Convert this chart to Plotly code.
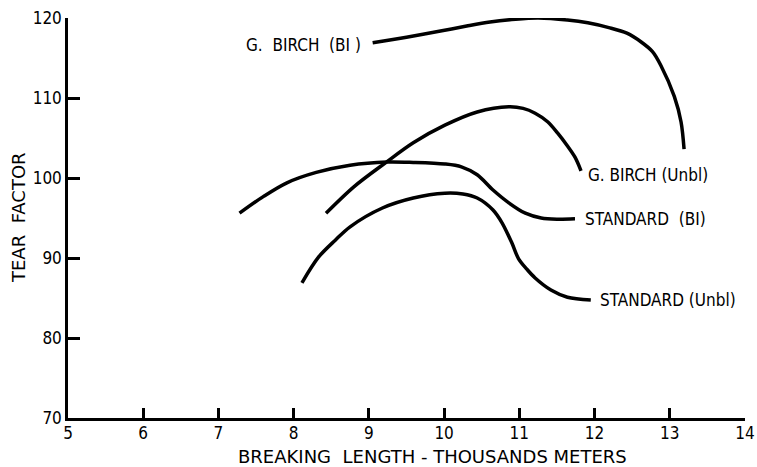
import plotly.graph_objects as go

# Breaking length (thousands of meters) vs. tear factor for four pulps
birch_bl_x = [9.05, 9.5, 9.97, 10.3, 10.61, 10.95, 11.25, 11.64, 11.91, 12.19, 12.43,
              12.62, 12.77, 12.88, 13.06, 13.15, 13.19]
birch_bl_y = [116.9, 117.6, 118.4, 119.0, 119.5, 119.85, 120.0, 119.75, 119.4, 118.8, 118.1,
              117.0, 115.8, 114.1, 110.2, 107.0, 103.6]

birch_unbl_x = [8.43, 8.8, 9.22, 9.59, 10.01, 10.44, 10.86, 11.05, 11.21, 11.38, 11.51, 11.64,
                11.74, 11.82]
birch_unbl_y = [95.6, 98.9, 101.9, 104.4, 106.6, 108.25, 108.9, 108.7, 108.1, 107.0, 105.6,
                104.0, 102.6, 100.9]

std_bl_x = [7.28, 7.6, 7.91, 8.3, 8.75, 9.24, 9.59, 10.01, 10.23, 10.44, 10.65, 10.86,
            11.08, 11.29, 11.5, 11.74]
std_bl_y = [95.6, 97.7, 99.4, 100.7, 101.6, 102.0, 101.95, 101.75, 101.4, 100.4, 98.5, 96.9,
            95.6, 95.0, 94.85, 94.9]

std_unbl_x = [8.11, 8.33, 8.55, 8.75, 9.18, 9.59, 10.01, 10.25, 10.44, 10.65, 10.77, 10.90,
              10.99, 11.1, 11.21, 11.42, 11.64, 11.95]
std_unbl_y = [86.9, 90.1, 92.2, 93.9, 96.25, 97.5, 98.1, 98.0, 97.5, 96.0, 94.4, 91.9,
              89.9, 88.6, 87.5, 86.0, 85.1, 84.75]

x_ticks = [5, 6, 7, 8, 9, 10, 11, 12, 13, 14]
y_ticks = [70, 80, 90, 100, 110, 120]

curve_names = ["G.  BIRCH  (BI )", "G. BIRCH (Unbl)", "STANDARD  (BI)", "STANDARD (Unbl)"]

LABEL_FONT = "DejaVu Sans Condensed"
TITLE_FONT = "DejaVu Sans"
W, H = 757, 467
ML, MR, MT, MB = 68, 12, 18, 49

fig = go.Figure()
series = [(birch_bl_x, birch_bl_y), (birch_unbl_x, birch_unbl_y),
          (std_bl_x, std_bl_y), (std_unbl_x, std_unbl_y)]
for name, (xs, ys) in zip(curve_names, series):
    fig.add_trace(go.Scatter(
        x=xs, y=ys, mode="lines", name=name,
        line=dict(color="black", width=3.5, shape="spline", smoothing=0.9),
        showlegend=False, cliponaxis=False,
    ))

# Curve labels next to the curve ends (pixel nudges via xshift / yshift)
label_specs = [
    (curve_names[0], birch_bl_x[0], birch_bl_y[0], "right", -10, -2),
    (curve_names[1], birch_unbl_x[-1], birch_unbl_y[-1], "left", 5, -4),
    (curve_names[2], std_bl_x[-1], std_bl_y[-1], "left", 8, 0),
    (curve_names[3], std_unbl_x[-1], std_unbl_y[-1], "left", 7, 0),
]
for text, x, y, anchor, dx, dy in label_specs:
    fig.add_annotation(x=x, y=y, xref="x", yref="y", text=text, showarrow=False,
                       xanchor=anchor, yanchor="middle", xshift=dx, yshift=dy,
                       font=dict(family=LABEL_FONT, size=17, color="black"))

pw, ph = W - ML - MR, H - MT - MB
# Axis titles
fig.add_annotation(x=(432 - ML) / pw, y=-(457 - (H - MB)) / ph, xref="paper", yref="paper",
                   text="BREAKING  LENGTH - THOUSANDS METERS", showarrow=False,
                   xanchor="center", yanchor="middle", borderpad=0,
                   font=dict(family=TITLE_FONT, size=18, color="black"))
fig.add_annotation(x=(18 - ML) / pw, y=0.5, xref="paper", yref="paper",
                   text="TEAR  FACTOR", showarrow=False, textangle=-90,
                   xanchor="center", yanchor="middle",
                   font=dict(family=TITLE_FONT, size=18, color="black"))

fig.update_layout(
    width=W, height=H,
    margin=dict(l=ML, r=MR, t=MT, b=MB, autoexpand=False),
    paper_bgcolor="white", plot_bgcolor="white",
)

fig.update_xaxes(range=[5, 14], tickvals=x_ticks, ticks="inside", ticklen=10, tickwidth=2.5,
                 tickcolor="black", showline=True, linecolor="black", linewidth=2.5,
                 showgrid=False, zeroline=False, ticklabelstandoff=-2, automargin=False,
                 ticklabeloverflow="allow",
                 tickfont=dict(family=LABEL_FONT, size=17, color="black"))
fig.update_yaxes(range=[70, 120], tickvals=y_ticks, ticks="inside", ticklen=12, tickwidth=2.5,
                 tickcolor="black", showline=True, linecolor="black", linewidth=2.5,
                 showgrid=False, zeroline=False, ticklabelstandoff=0, automargin=False,
                 ticklabeloverflow="allow",
                 tickfont=dict(family=LABEL_FONT, size=17, color="black"))

fig.write_html("out.html")
